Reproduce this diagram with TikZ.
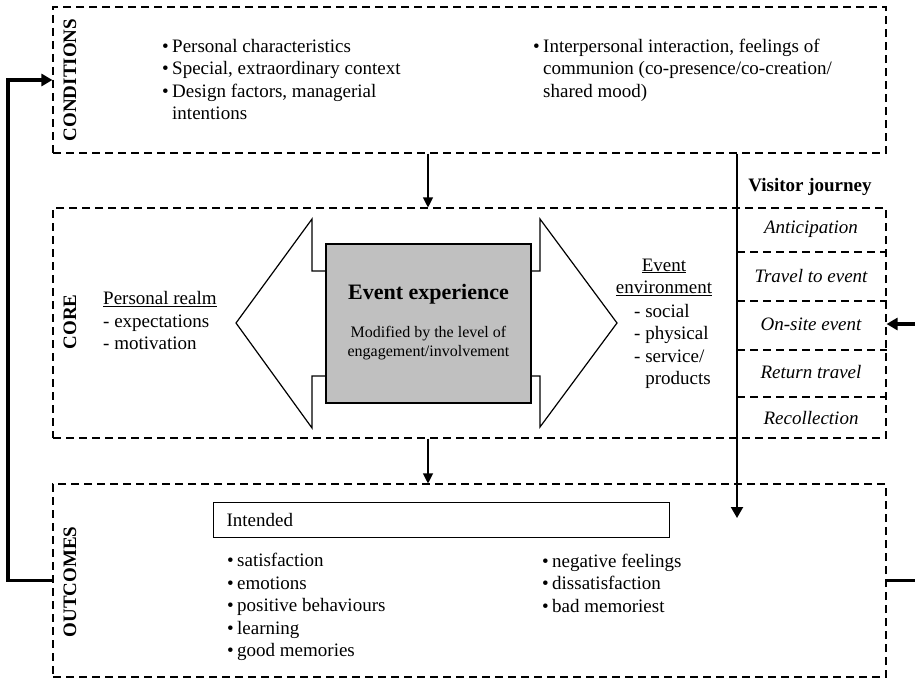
\documentclass[tikz,border=0pt]{standalone}
\usepackage{fontspec}
\setmainfont{Liberation Serif}
\usetikzlibrary{arrows.meta}
\definecolor{boxgray}{RGB}{192,192,192}
\newcommand{\bul}{\makebox[10pt][l]{\raisebox{0ex}{\fontsize{19}{19}\selectfont\textbullet}}}
\newcommand{\lstl}[1]{\begin{tabular}[t]{@{}l@{}}#1\end{tabular}}
\newcommand{\lstc}[1]{\begin{tabular}[t]{@{}c@{}}#1\end{tabular}}
\begin{document}
\begin{tikzpicture}[x=1pt,y=-1pt,
  dbox/.style={draw, line width=1.1pt, dash pattern=on 8pt off 5pt, inner sep=0pt},
  sep/.style={line width=1.1pt, dash pattern=on 8pt off 5pt},
  lab/.style={font=\bfseries\fontsize{19}{22}\selectfont, rotate=90, inner sep=0pt},
  txt/.style={font=\fontsize{19}{22.5}\selectfont, inner sep=0pt, anchor=base west},
  ctxt/.style={font=\fontsize{19}{22.5}\selectfont, inner sep=0pt, anchor=base},
  rowtxt/.style={font=\itshape\fontsize{19}{22}\selectfont, inner sep=0pt},
  thinarrow/.style={line width=1.1pt, -{Triangle[length=10pt,width=10pt]}},
  vjarrow/.style={line width=2pt, -{Triangle[length=11pt,width=12pt]}},
  loopline/.style={line width=3.5pt},
  looparrow/.style={line width=3.5pt, -{Triangle[length=11pt,width=12pt]}},
  bigarrow/.style={draw, fill=white, line width=1.2pt, line join=miter},
  eebox/.style={draw, fill=boxgray, line width=2.2pt, inner sep=0pt},
  ibox/.style={draw, line width=1.2pt, inner xsep=13pt, inner ysep=0pt, text width=430pt, align=left,
    minimum height=35pt, font=\fontsize{19}{22}\selectfont}
]
\useasboundingbox (0,0) rectangle (915,680);

% main dashed boxes
\node[dbox, minimum width=833pt, minimum height=146pt] (cond) at (469.5,80) {};
\node[dbox, minimum width=833pt, minimum height=230pt] (core) at (469.5,323) {};
\node[dbox, minimum width=833pt, minimum height=193pt] (outc) at (469.5,580.5) {};

% side labels
\node[lab] (condlab) at (70,80) {CONDITIONS};
\node[lab] (corelab) at (70,322) {CORE};
\node[lab] (outclab) at (70,582) {OUTCOMES};

% conditions text
\node[txt] (condL) at (162,52) {\lstl{\bul Personal characteristics\\
\bul Special, extraordinary context\\
\bul Design factors, managerial\\
\hspace*{10pt}intentions}};
\node[txt] (condR) at (533,52) {\lstl{\bul Interpersonal interaction, feelings of\\
\hspace*{10pt}communion (co-presence/co-creation/\\
\hspace*{10pt}shared mood)}};

% big arrows
\draw[bigarrow] (236,323) -- (312,219) -- (312,271) -- (335,271) -- (335,376) -- (312,376) -- (312,428) -- cycle;
\draw[bigarrow] (617,323) -- (540,219) -- (540,271) -- (522,271) -- (522,376) -- (540,376) -- (540,427) -- cycle;

% event experience
\node[eebox, minimum width=205pt, minimum height=159pt] (ee) at (428.5,323.5) {};
\node[font=\bfseries\fontsize{22}{26}\selectfont, inner sep=0pt, anchor=base] (eet) at (428.5,299) {Event experience};
\node[font=\fontsize{16}{19}\selectfont, inner sep=0pt, anchor=base] (eem) at (428.5,337) {\lstc{Modified by the level of\\engagement/involvement}};

% personal realm
\node[txt] (pr) at (103,304.5) {\lstl{\underline{Personal realm}\\- expectations\\- motivation}};

% event environment
\node[ctxt] (envh) at (664,271) {\lstc{\underline{Event}\\\underline{environment}}};
\node[txt] (envl) at (634,317) {\lstl{- social\\- physical\\- service/\\\phantom{- }products}};

% visitor journey
\node[font=\bfseries\fontsize{19}{22}\selectfont, inner sep=0pt] (vjt) at (810,187) {Visitor journey};
\node[rowtxt] (r1) at (811,229) {Anticipation};
\node[rowtxt] (r2) at (811,276) {Travel to event};
\node[rowtxt] (r3) at (811,324) {On-site event};
\node[rowtxt] (r4) at (811,372) {Return travel};
\node[rowtxt] (r5) at (811,418) {Recollection};
\coordinate (vjx) at (737,0);
\draw[sep] (vjx |- 0,252) -- (core.east |- 0,252);
\draw[sep] (vjx |- 0,301) -- (core.east |- 0,301);
\draw[sep] (vjx |- 0,350) -- (core.east |- 0,350);
\draw[sep] (vjx |- 0,397) -- (core.east |- 0,397);
\coordinate (vjend) at (737,518);
\draw[vjarrow] (vjx |- cond.south) -- (vjend);

% outcomes
\node[ibox, anchor=north west] (int) at (213,502) {Intended};
\node[txt] (outL) at (227,566.5) {\lstl{\bul satisfaction\\\bul emotions\\\bul positive behaviours\\\bul learning\\\bul good memories}};
\node[txt] (outR) at (542,567) {\lstl{\bul negative feelings\\\bul dissatisfaction\\\bul bad memoriest}};

% flow arrows
\coordinate (ax) at (428,0);
\draw[thinarrow] (ax |- cond.south) -- (ax |- core.north);
\draw[thinarrow] (ax |- core.south) -- (ax |- outc.north);

% feedback loop
\coordinate (lx) at (8,0);
\coordinate (rx) at (918,0);
\draw[looparrow] (outc.west) -- (outc.west -| lx) |- (cond.west);
\draw[loopline] (outc.east) -- (outc.east -| rx);
\draw[looparrow] (rx |- r3) -- (core.east |- r3);
\end{tikzpicture}
\end{document}
